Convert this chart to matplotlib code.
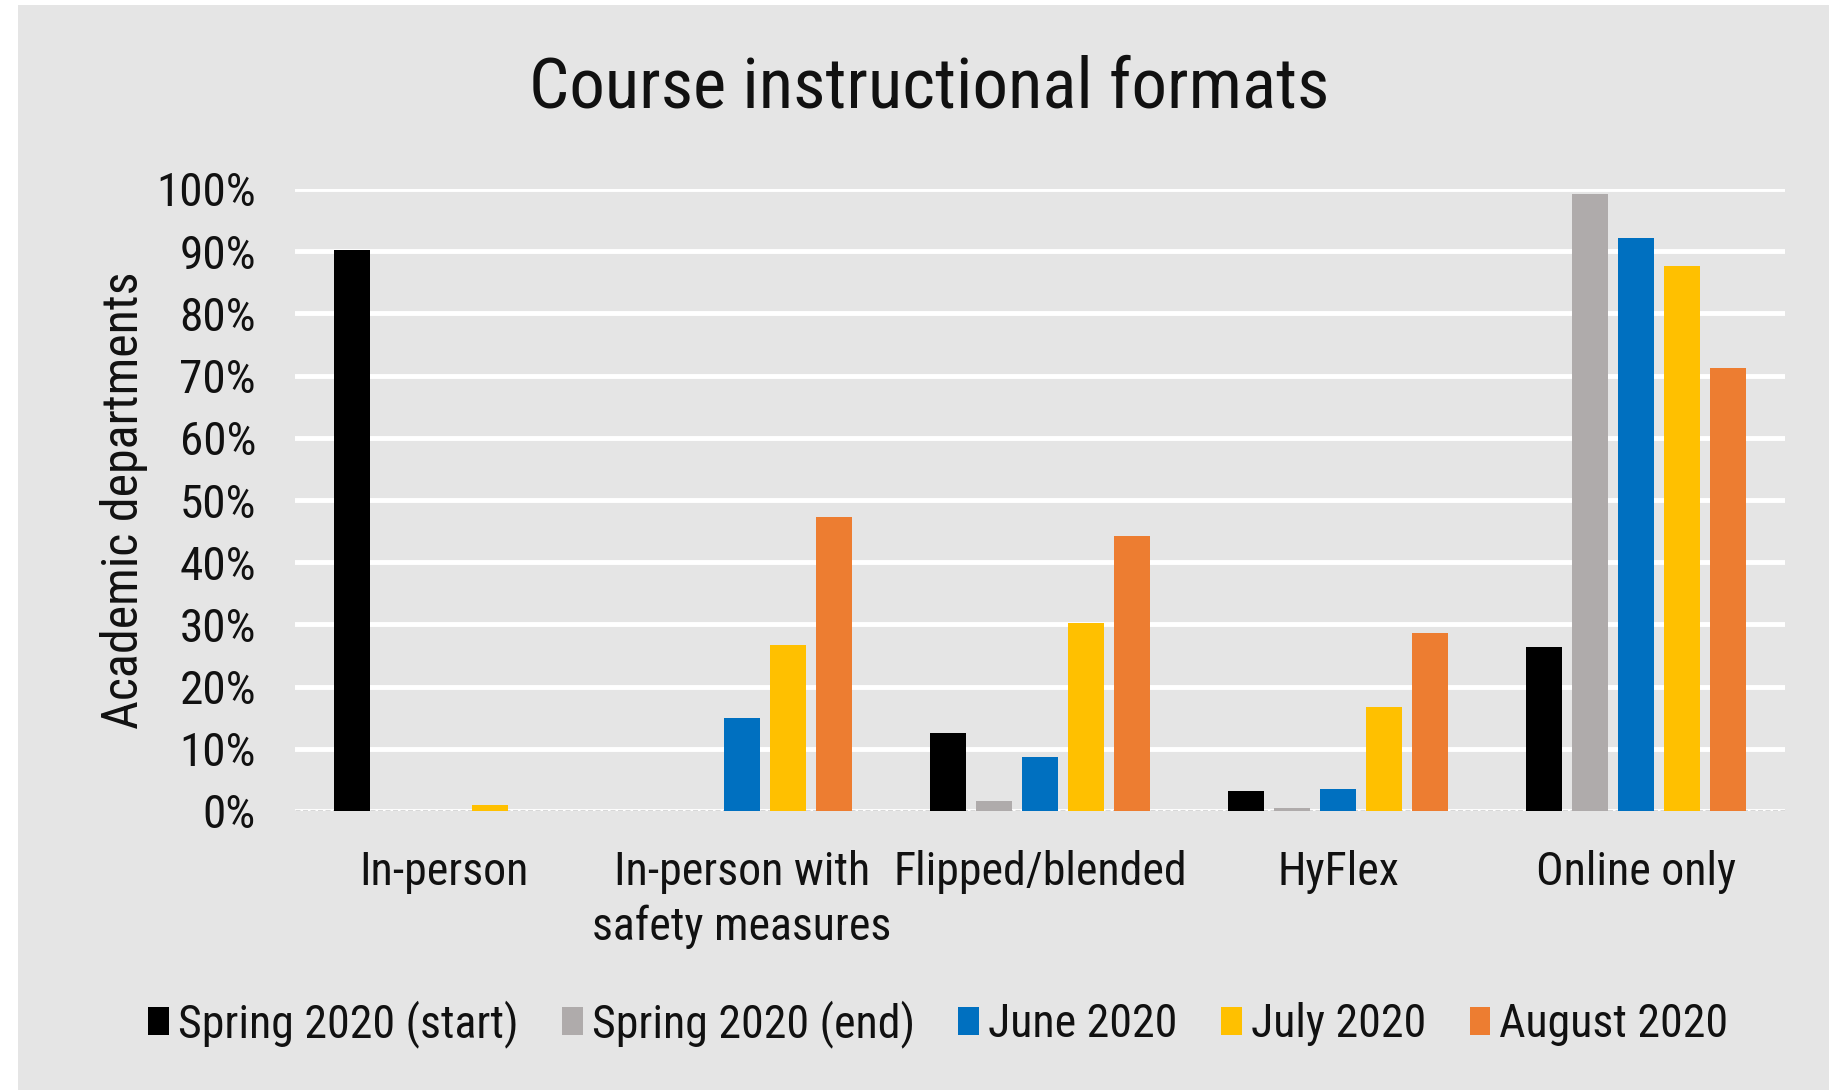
import numpy as np
import matplotlib.pyplot as plt
from matplotlib import font_manager as fm
from matplotlib.patches import Rectangle
from matplotlib.ticker import PercentFormatter

# pick a narrow face if one is installed
names = {f.name for f in fm.fontManager.ttflist}
family = 'DejaVu Sans'
for cand in ['Roboto Condensed', 'Liberation Sans Narrow']:
    if cand in names:
        family = cand
        break
plt.rcParams['font.family'] = [family, 'DejaVu Sans']
if family == 'DejaVu Sans':
    plt.rcParams['font.stretch'] = 'condensed'

categories = ['In-person', 'In-person with\nsafety measures', 'Flipped/blended', 'HyFlex', 'Online only']
series_names = ['Spring 2020 (start)', 'Spring 2020 (end)', 'June 2020', 'July 2020', 'August 2020']
colors = ['#000000', '#afabab', '#0070c0', '#ffc000', '#ed7d31']

spring_start = [0.902, 0.0, 0.126, 0.032, 0.263]
spring_end = [0.0, 0.0, 0.016, 0.005, 0.992]
june_2020 = [0.0, 0.149, 0.087, 0.036, 0.922]
july_2020 = [0.009, 0.267, 0.302, 0.168, 0.877]
august_2020 = [0.0, 0.473, 0.442, 0.286, 0.713]

series = [spring_start, spring_end, june_2020, july_2020, august_2020]

bg = '#e5e5e5'
fig = plt.figure(figsize=(18.29, 10.90), dpi=100, facecolor=bg)
# thin white margin on top and left
fig.patches.append(Rectangle((0, 0), 18 / 1829, 1, transform=fig.transFigure,
                             facecolor='white', edgecolor='none', zorder=-5))
fig.patches.append(Rectangle((0, 1 - 5 / 1090), 1, 5 / 1090, transform=fig.transFigure,
                             facecolor='white', edgecolor='none', zorder=-5))

left, right = 295 / 1829, 1785 / 1829
bottom, top = 1 - 811 / 1090, 1 - 189 / 1090
ax = fig.add_axes([left, bottom, right - left, top - bottom])
ax.set_facecolor(bg)

x = np.arange(len(categories))
pitch = 0.154
width = 0.121
for i, (name, vals, c) in enumerate(zip(series_names, series, colors)):
    offs = (i - 2) * pitch
    ax.bar(x + offs, vals, width, color=c, label=name, zorder=3)

ax.set_xlim(-0.5, len(categories) - 0.5)
ax.set_ylim(0, 1)
ax.set_yticks(np.arange(0, 1.01, 0.1))
ax.yaxis.set_major_formatter(PercentFormatter(1.0, decimals=0))
ax.grid(axis='y', color='white', linewidth=3.5, zorder=1)
ax.axhline(0, color='#cccccc', linewidth=1.8, linestyle=(0, (2, 1)), zorder=2)
ax.set_axisbelow(True)

for s in ax.spines.values():
    s.set_visible(False)
ax.tick_params(axis='both', length=0, colors='#111111')
ax.tick_params(axis='y', pad=28, labelsize=34)
ax.tick_params(axis='x', pad=28, labelsize=33)
ax.set_xticks(x)
ax.set_xticklabels(categories, linespacing=1.3)

ax.set_ylabel('Academic departments', fontsize=36, color='#111111', labelpad=6)

fig.text(929 / 1829, 1 - 88 / 1090, 'Course instructional formats',
         fontsize=51, ha='center', va='center', color='#111111')

fig.legend(loc='center', bbox_to_anchor=(0.513, 1 - 1024 / 1090), ncol=5,
           frameon=False, fontsize=33, handlelength=0.45, handleheight=0.55,
           handletextpad=0.2, columnspacing=0.95, labelcolor='#111111')

fig.savefig('out.png', dpi=100, facecolor=fig.get_facecolor())
